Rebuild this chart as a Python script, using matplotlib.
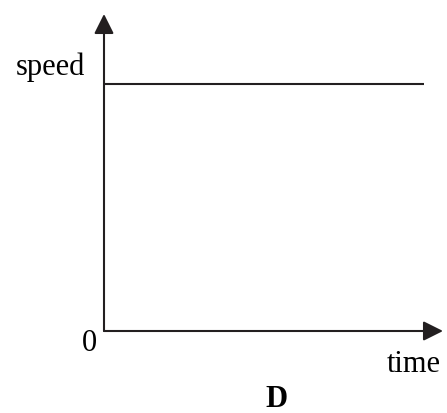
import matplotlib.pyplot as plt

# data: constant speed over time
time = [0, 10]
speed = [8, 8]
t_max = 10.6
v_max = 10.25

W, H = 447, 414
plt.rcParams.update({
    'font.family': 'serif',
    'font.serif': ['Liberation Serif', 'DejaVu Serif'],
})

fig = plt.figure(figsize=(W / 100, H / 100), dpi=100)
ax = fig.add_axes([104 / W, (H - 332) / H, 339 / W, 317 / H])
ax.set_xlim(0, t_max)
ax.set_ylim(0, v_max)
ax.axis('off')

ink = '#231f20'
ax.plot(time, speed, color=ink, lw=1.5, solid_capstyle='butt')

# axes with arrow heads
arrow = dict(arrowstyle='-|>,head_length=1.2,head_width=0.6', mutation_scale=10,
             color=ink, lw=1.5, shrinkA=0, shrinkB=0)
ax.annotate('', xy=(t_max, 0), xytext=(0, 0), arrowprops=arrow, annotation_clip=False)
ax.annotate('', xy=(0, v_max), xytext=(0, 0), arrowprops=arrow, annotation_clip=False)


def px(x, y):
    return x / W, 1 - y / H


fs = 22
fig.text(*px(85, 75), 'speed', ha='right', va='baseline', fontsize=fs, color='black')
fig.text(*px(89, 351), '0', ha='center', va='baseline', fontsize=fs, color='black')
fig.text(*px(414, 372), 'time', ha='center', va='baseline', fontsize=fs, color='black')
fig.text(*px(276, 407), 'D', ha='center', va='baseline', fontsize=fs,
         fontweight='bold', color='black')

fig.savefig('out.png', dpi=100)
